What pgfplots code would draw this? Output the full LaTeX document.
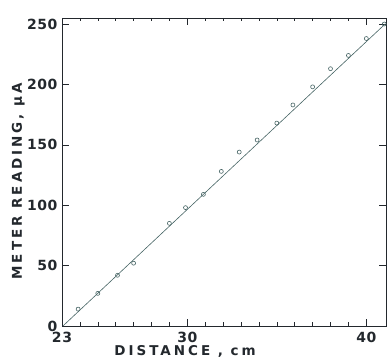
\documentclass[border=0pt]{standalone}
\usepackage{fontspec}
\setmainfont{DejaVu Sans}
\newfontfamily\lblfont{DejaVu Sans}[LetterSpace=22]
\newfontfamily\tickfont{DejaVu Sans}[LetterSpace=4]
\usepackage{pgfplots}
\pgfplotsset{compat=1.18}
\definecolor{ink}{RGB}{35,40,45}
\definecolor{dat}{RGB}{70,100,100}
\begin{document}
\begin{tikzpicture}
\begin{axis}[
  scale only axis, width=324pt, height=308pt,
  xmin=23, xmax=41.1, ymin=0, ymax=255,
  xtick={23,30,40}, minor xtick={24,25,26,27,28,29,31,32,33,34,35,36,37,38,39},
  ytick={0,50,100,150,200,250},
  tick align=inside, major tick length=7pt, minor tick length=3.5pt,
  axis line style={ink, line width=0.8pt},
  tick style={ink, line width=0.6pt},
  /pgf/number format/assume math mode=true,
  tick label style={font=\tickfont\bfseries\fontsize{14}{14}\selectfont, text=ink},
  xticklabel style={yshift=-3pt},
  yticklabel style={xshift=-1pt},
  xlabel={DISTANCE , cm},
  ylabel={METER READING, μA},
  xlabel style={at={(axis description cs:0.38,-0.083)}, anchor=center, font=\lblfont\bfseries\fontsize{13.5}{14}\selectfont, text=ink},
  ylabel style={at={(axis description cs:-0.135,0.47)}, anchor=center, font=\lblfont\bfseries\fontsize{13.5}{14}\selectfont, text=ink},
  clip=false,
]
\addplot[dat, line width=0.6pt] coordinates {(23.05,0) (41.05,250)};
\addplot[only marks, mark=o, mark size=2pt, dat, mark options={line width=0.6pt}] coordinates {
(23.9,14) (25.0,27) (26.1,42) (27.0,52) (29.0,85) (29.9,98)
(30.9,109) (31.9,128) (32.9,144) (33.9,154) (35.0,168)
(35.9,183) (37.0,198) (38.0,213) (39.0,224) (40.0,238) (41.0,250)
};
\end{axis}
\pgfresetboundingbox
\path[use as bounding box] (current axis.south west) ++(-62pt,-32pt) rectangle ([shift={(4pt,18pt)}]current axis.north east);
\end{tikzpicture}
\end{document}
